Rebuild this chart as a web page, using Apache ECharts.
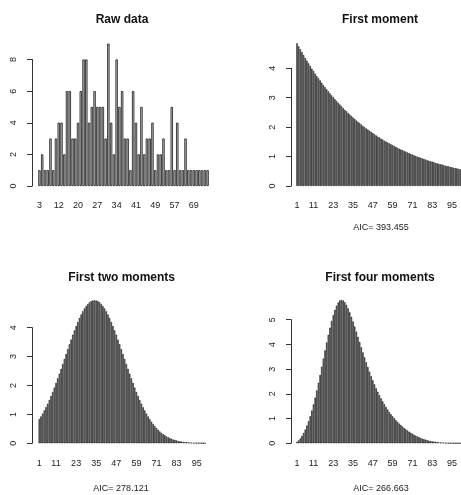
<!DOCTYPE html>
<html><head><meta charset="utf-8">
<script src="https://cdn.jsdelivr.net/npm/echarts@6/dist/echarts.min.js"></script>
<style>html,body{margin:0;padding:0;background:#fff}#c{width:461px;height:495px}</style>
</head><body><div id="c"></div>
<script>
// ---- Data ----
const rawCategories = [3,4,5,6,8,9,11,12,13,14,15,16,17,18,20,21,22,23,24,25,26,27,28,29,30,31,32,33,34,35,36,37,38,39,40,41,42,43,44,45,46,47,49,50,51,52,53,54,55,57,58,59,61,63,65,67,69,70,72,74,77,80];
const rawCounts = [1,2,1,1,3,1,3,4,4,2, 6,6,3,3,4,6,8,8,4,5, 6,5,5,5,3,9,4,2,8,5, 6,3,3,1,6, 4,2,5,2,3,3,4,1,2,2, 3,1,1,5,1,4,1,1,3,1, 1,1,1,1,1,1,1];
const rawTickLabels = ['3','12','20','27','34','41','49','57','69'];

const momentCategories = Array.from({length: 100}, (_, i) => String(i + 1));
const momentTickLabels = ['1','11','23','35','47','59','71','83','95'];

const firstMoment = [4.85,4.75,4.65,4.55,4.45,4.35,4.26,4.17,4.08,3.99,
3.91,3.82,3.74,3.66,3.59,3.51,3.43,3.36,3.29,3.22,
3.15,3.08,3.02,2.95,2.89,2.83,2.77,2.71,2.65,2.59,
2.54,2.48,2.43,2.38,2.33,2.28,2.23,2.18,2.14,2.09,
2.04,2.00,1.96,1.92,1.88,1.84,1.80,1.76,1.72,1.68,
1.65,1.61,1.58,1.54,1.51,1.48,1.45,1.42,1.39,1.36,
1.33,1.30,1.27,1.24,1.22,1.19,1.17,1.14,1.12,1.09,
1.07,1.05,1.02,1.00,0.98,0.96,0.94,0.92,0.90,0.88,
0.86,0.84,0.83,0.81,0.79,0.77,0.76,0.74,0.73,0.71,
0.69,0.68,0.67,0.65,0.64,0.62,0.61,0.60,0.58,0.57];

const firstTwoMoments = [0.84,0.93,1.03,1.14,1.25,1.37,1.50,1.64,1.78,1.93,
2.09,2.25,2.41,2.58,2.75,2.92,3.09,3.26,3.43,3.59,
3.76,3.91,4.06,4.20,4.34,4.46,4.57,4.67,4.75,4.82,
4.88,4.92,4.94,4.95,4.94,4.92,4.88,4.82,4.75,4.67,
4.57,4.46,4.34,4.20,4.06,3.91,3.76,3.59,3.43,3.26,
3.09,2.92,2.75,2.58,2.41,2.25,2.09,1.93,1.78,1.64,
1.50,1.37,1.25,1.14,1.03,0.93,0.84,0.75,0.67,0.60,
0.53,0.47,0.41,0.36,0.32,0.28,0.24,0.21,0.18,0.16,
0.13,0.12,0.10,0.08,0.07,0.06,0.05,0.04,0.04,0.03,
0.025,0.02,0.017,0.014,0.011,0.009,0.007,0.006,0.005,0.004];

const firstFourMoments = [0.06,0.12,0.20,0.30,0.42,0.56,0.72,0.90,1.10,1.33,
1.58,1.85,2.14,2.45,2.77,3.10,3.43,3.76,4.08,4.39,
4.68,4.95,5.19,5.40,5.57,5.70,5.78,5.80,5.78,5.71,
5.60,5.46,5.30,5.12,4.93,4.73,4.52,4.31,4.10,3.89,
3.68,3.48,3.28,3.09,2.90,2.72,2.55,2.39,2.23,2.09,
1.95,1.82,1.70,1.58,1.47,1.37,1.27,1.18,1.10,1.02,
0.94,0.87,0.80,0.74,0.68,0.62,0.57,0.52,0.47,0.43,
0.39,0.35,0.31,0.28,0.25,0.22,0.19,0.17,0.15,0.13,
0.11,0.09,0.08,0.07,0.06,0.05,0.04,0.03,0.03,0.02,
0.02,0.01,0.01,0.01,0.01,0.005,0.004,0.003,0.002,0.001];

const panelTitles = ['Raw data','First moment','First two moments','First four moments'];
const aicLabels = ['AIC= 393.455','AIC= 278.121','AIC= 266.663'];

// ---- Layout / style ----
const FONT = "'Liberation Sans', Arial, Helvetica, sans-serif";
const panels = [
  {cats: rawCategories.map(String), vals: rawCounts, ticks: rawTickLabels, ymax: 8, yint: 2,
   left: 38.07, width: 170.9, top: 59.5, height: 126.5, offset: 6, border: 0.7, xMargin: 15},
  {cats: momentCategories, vals: firstMoment, ticks: momentTickLabels, ymax: 4, yint: 1,
   left: 296.2, width: 167, top: 68.3, height: 117.7, offset: 5.2, border: 0.6, xMargin: 15},
  {cats: momentCategories, vals: firstTwoMoments, ticks: momentTickLabels, ymax: 4, yint: 1,
   left: 38.46, width: 167.4, top: 327.7, height: 115.6, offset: 6.5, border: 0.6, xMargin: 16},
  {cats: momentCategories, vals: firstFourMoments, ticks: momentTickLabels, ymax: 5, yint: 1,
   left: 296.2, width: 167, top: 319.7, height: 123.6, offset: 5.2, border: 0.6, xMargin: 16}
];
const titlePos = [[122, 14], [380, 13.5], [121.7, 271.3], [380, 271.3]];
const aicPos = [[381, 223], [121, 484], [381, 484]];

const option = {
  animation: false,
  backgroundColor: '#fff',
  title: [
    ...panelTitles.map((t, i) => ({
      text: t, left: titlePos[i][0], top: titlePos[i][1], textAlign: 'center', padding: 0,
      textStyle: {fontFamily: FONT, fontSize: 12, fontWeight: 'bold', color: '#111'}
    })),
    ...aicLabels.map((t, i) => ({
      text: t, left: aicPos[i][0], top: aicPos[i][1], textAlign: 'center', padding: 0,
      textStyle: {fontFamily: FONT, fontSize: 9, fontWeight: 'normal', color: '#222'}
    }))
  ],
  grid: panels.map(p => ({left: p.left, width: p.width, top: p.top, height: p.height, containLabel: false})),
  xAxis: panels.map((p, i) => ({
    type: 'category', gridIndex: i, data: p.cats, boundaryGap: true,
    axisLine: {show: false}, axisTick: {show: false}, splitLine: {show: false},
    axisLabel: {
      interval: (idx, val) => p.ticks.indexOf(val) >= 0,
      margin: p.xMargin, fontFamily: FONT, fontSize: 9, color: '#222', hideOverlap: false
    }
  })),
  yAxis: panels.map((p, i) => ({
    type: 'value', gridIndex: i, min: 0, max: p.ymax, interval: p.yint, offset: p.offset,
    axisLine: {show: true, lineStyle: {color: '#333', width: 1}},
    axisTick: {show: true, length: 5, lineStyle: {color: '#333'}},
    splitLine: {show: false},
    axisLabel: {rotate: 90, margin: 14, fontFamily: FONT, fontSize: 9, color: '#222'}
  })),
  series: panels.map((p, i) => ({
    type: 'bar', xAxisIndex: i, yAxisIndex: i, data: p.vals, clip: false,
    barWidth: '83.3%',
    itemStyle: {color: '#bebebe', borderColor: '#000', borderWidth: p.border}
  }))
};
const chart = echarts.init(document.getElementById('c'), null, {renderer: 'canvas'});
chart.setOption(option);
</script>
</body></html>
